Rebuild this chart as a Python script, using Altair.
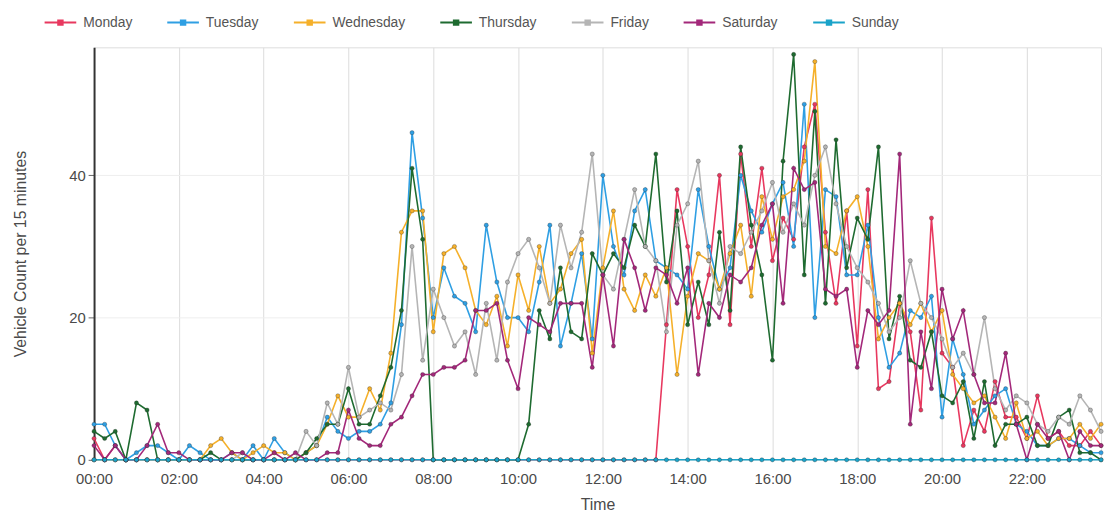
import altair as alt
import pandas as pd

days = ["Monday", "Tuesday", "Wednesday", "Thursday", "Friday", "Saturday", "Sunday"]
colors = ["#e8385f", "#2f9fe3", "#f5b02a", "#1e6b30", "#b5b5b5", "#a3287a", "#1aa3c9"]

monday = [
    3, 0, 2, 0, 0, 0, 0, 0,
    0, 0, 0, 0, 0, 0, 0, 0,
    0, 0, 0, 0, 0, 0, 0, 0,
    0, 0, 0, 0, 0, 0, 0, 0,
    0, 0, 0, 0, 0, 0, 0, 0,
    0, 0, 0, 0, 0, 0, 0, 0,
    0, 0, 0, 0, 0, 0, 19, 38,
    30, 20, 26, 40, 19, 43, 30, 41,
    28, 34, 31, 44, 50, 32, 22, 35,
    16, 38, 10, 11, 22, 18, 7, 34,
    15, 13, 2, 7, 4, 11, 6, 6,
    3, 9, 3, 4, 2, 2, 4, 2,
]
tuesday = [
    5, 5, 2, 0, 1, 2, 2, 1,
    0, 2, 1, 0, 0, 1, 0, 2,
    0, 3, 1, 0, 1, 2, 6, 4,
    3, 4, 4, 5, 8, 19, 46, 34,
    20, 27, 23, 22, 18, 33, 25, 20,
    20, 18, 25, 33, 16, 22, 29, 17,
    40, 30, 26, 35, 38, 28, 27, 26,
    24, 38, 30, 24, 27, 40, 35, 32,
    36, 39, 30, 50, 20, 38, 37, 26,
    26, 33, 20, 13, 15, 21, 20, 23,
    6, 17, 12, 5, 7, 9, 10, 5,
    4, 2, 2, 3, 3, 2, 1, 1,
]
wednesday = [
    0, 0, 0, 0, 0, 0, 0, 0,
    0, 0, 0, 2, 3, 1, 0, 1,
    2, 1, 1, 0, 1, 2, 5, 9,
    6, 6, 10, 7, 15, 32, 35, 35,
    18, 29, 30, 27, 21, 19, 23, 16,
    26, 21, 30, 22, 24, 29, 31, 15,
    27, 35, 24, 21, 26, 23, 27, 12,
    23, 29, 28, 24, 29, 33, 23, 37,
    31, 37, 38, 42, 56, 30, 29, 35,
    37, 30, 17, 20, 22, 19, 22, 18,
    21, 12, 10, 8, 9, 6, 3, 8,
    3, 4, 2, 3, 3, 5, 3, 5,
]
thursday = [
    4, 3, 4, 0, 8, 7, 0, 0,
    0, 0, 0, 1, 0, 0, 0, 0,
    0, 0, 0, 0, 1, 3, 5, 5,
    10, 5, 5, 9, 13, 21, 41, 31,
    0, 0, 0, 0, 0, 0, 0, 0,
    0, 5, 21, 17, 27, 18, 17, 29,
    26, 29, 27, 33, 30, 43, 25, 35,
    19, 25, 19, 32, 21, 44, 33, 26,
    14, 42, 57, 26, 49, 22, 45, 27,
    34, 31, 44, 17, 23, 14, 13, 18,
    9, 8, 11, 3, 11, 2, 5, 5,
    6, 2, 2, 6, 7, 1, 1, 0,
]
friday = [
    0, 0, 0, 0, 0, 0, 0, 0,
    0, 0, 0, 0, 0, 0, 1, 0,
    0, 0, 0, 0, 4, 2, 8, 5,
    13, 6, 7, 8, 7, 12, 30, 14,
    24, 20, 16, 18, 12, 22, 14, 25,
    29, 31, 27, 22, 33, 27, 32, 43,
    26, 24, 31, 38, 30, 28, 18, 33,
    36, 42, 28, 22, 30, 29, 32, 35,
    39, 32, 36, 33, 40, 44, 36, 30,
    27, 25, 22, 18, 20, 28, 22, 20,
    17, 13, 15, 12, 20, 10, 7, 9,
    8, 5, 4, 6, 5, 9, 7, 4,
]
saturday = [
    2, 0, 2, 0, 0, 2, 5, 1,
    1, 0, 0, 0, 0, 1, 1, 0,
    0, 1, 0, 1, 0, 0, 1, 1,
    7, 3, 2, 2, 5, 6, 9, 12,
    12, 13, 13, 14, 21, 21, 22, 14,
    10, 20, 19, 18, 22, 22, 22, 13,
    26, 16, 31, 27, 21, 27, 26, 22,
    27, 12, 22, 20, 26, 25, 27, 33,
    36, 22, 41, 38, 39, 24, 23, 24,
    13, 21, 19, 21, 43, 5, 18, 10,
    24, 17, 21, 12, 8, 8, 15, 5,
    0, 5, 3, 4, 0, 4, 2, 2,
]
sunday = [
    0, 0, 0, 0, 0, 0, 0, 0,
    0, 0, 0, 0, 0, 0, 0, 0,
    0, 0, 0, 0, 0, 0, 0, 0,
    0, 0, 0, 0, 0, 0, 0, 0,
    0, 0, 0, 0, 0, 0, 0, 0,
    0, 0, 0, 0, 0, 0, 0, 0,
    0, 0, 0, 0, 0, 0, 0, 0,
    0, 0, 0, 0, 0, 0, 0, 0,
    0, 0, 0, 0, 0, 0, 0, 0,
    0, 0, 0, 0, 0, 0, 0, 0,
    0, 0, 0, 0, 0, 0, 0, 0,
    0, 0, 0, 0, 0, 0, 0, 0,
]

series = [monday, tuesday, wednesday, thursday, friday, saturday, sunday]
times = [f"{h:02d}:{m:02d}" for h in range(24) for m in (0, 15, 30, 45)]
tick_hours = [0, 2, 4, 6, 8, 10, 12, 14, 16, 18, 20, 22]

rows = []
for order, (day, vals) in enumerate(zip(days, series)):
    for t, v in zip(times, vals):
        hh, mm = t.split(":")
        rows.append({"day": day, "order": order, "time": t,
                     "hour": int(hh) + int(mm) / 60, "count": v})
df = pd.DataFrame(rows)

FONT = "Liberation Sans"
legend = alt.Legend(
    orient="none", legendX=-41, legendY=-32, direction="horizontal", columns=7,
    title=None, symbolType="M-3.2,0H3.2M-0.45,-0.45H0.45V0.45H-0.45Z", symbolSize=100,
    symbolStrokeWidth=2, labelFontSize=14, labelOffset=16, columnPadding=31,
    labelColor="#555", labelFont=FONT, symbolOpacity=1,
)

color = alt.Color("day:N", scale=alt.Scale(domain=days, range=colors), legend=legend)

x = alt.X(
    "hour:Q",
    scale=alt.Scale(domain=[0, 23.75], nice=False, zero=False),
    axis=alt.Axis(values=tick_hours,
                  labelExpr="(datum.value < 10 ? '0' : '') + datum.value + ':00'",
                  title="Time", grid=True, gridColor="#dcdcdc", ticks=False,
                  domain=False, labelFlush=False, labelPadding=12, titlePadding=10,
                  labelFontSize=15, titleFontSize=16, labelColor="#4a4a4a",
                  titleColor="#4a4a4a", titleFontWeight="normal", labelFont=FONT,
                  titleFont=FONT),
)
y = alt.Y(
    "count:Q",
    scale=alt.Scale(domain=[0, 58], nice=False),
    axis=alt.Axis(values=[0, 20, 40], title="Vehicle Count per 15 minutes",
                  grid=True, gridColor="#eeeeee", domainColor="#333",
                  domainWidth=2, tickColor="#666", tickSize=6, labelPadding=3,
                  titlePadding=41, labelFontSize=15, titleFontSize=16,
                  labelColor="#4a4a4a", titleColor="#4a4a4a",
                  titleFontWeight="normal", labelFont=FONT, titleFont=FONT),
)

base = alt.Chart(df).encode(x=x, y=y, color=color, detail="day:N",
                            order=alt.Order("hour:Q"))

lines = base.mark_line(strokeWidth=1.6, opacity=1)
points = base.mark_point(filled=True, size=18, opacity=1,
                         strokeWidth=0.5, strokeOpacity=0.6).encode(
    stroke=alt.value("#222"))

chart = alt.layer(lines, points).properties(
    width=1018, height=417,
    padding={"left": 4, "top": 5, "right": 0, "bottom": 0},
).configure_view(stroke=None).configure(font=FONT)

chart.save("out.html", embed_options={"renderer": "svg", "actions": False})
